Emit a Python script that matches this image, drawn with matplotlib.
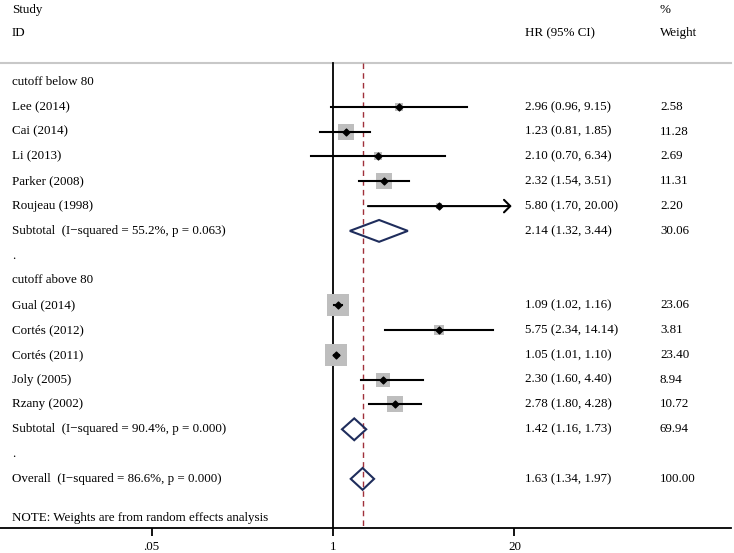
import matplotlib.pyplot as plt
import matplotlib.transforms as mtransforms
from matplotlib.patches import Polygon, FancyArrowPatch
import numpy as np

plt.rcParams['font.family'] = ['Liberation Serif', 'DejaVu Serif']
plt.rcParams['font.size'] = 9.4

# cutoff below 80
g1_names = ["Lee (2014)", "Cai (2014)", "Li (2013)", "Parker (2008)", "Roujeau (1998)"]
g1_hr = [2.96, 1.23, 2.10, 2.32, 5.80]
g1_lo = [0.96, 0.81, 0.70, 1.54, 1.70]
g1_hi = [9.15, 1.85, 6.34, 3.51, 20.00]
g1_wt = [2.58, 11.28, 2.69, 11.31, 2.20]
g1_sub = [2.14, 1.32, 3.44, 30.06]
g1_label = "Subtotal  (I\u2212squared = 55.2%, p = 0.063)"

# cutoff above 80
g2_names = ["Gual (2014)", "Cortés (2012)", "Cortés (2011)", "Joly (2005)", "Rzany (2002)"]
g2_hr = [1.09, 5.75, 1.05, 2.30, 2.78]
g2_lo = [1.02, 2.34, 1.01, 1.60, 1.80]
g2_hi = [1.16, 14.14, 1.10, 4.40, 4.28]
g2_wt = [23.06, 3.81, 23.40, 8.94, 10.72]
g2_sub = [1.42, 1.16, 1.73, 69.94]
g2_label = "Subtotal  (I\u2212squared = 90.4%, p = 0.000)"

overall = [1.63, 1.34, 1.97, 100.00]
overall_label = "Overall  (I\u2212squared = 86.6%, p = 0.000)"

xticks = [0.05, 1, 20]
xtick_labels = [".05", "1", "20"]

fig = plt.figure(figsize=(7.34, 5.53), dpi=100)
ax = fig.add_axes([0, 25 / 553, 731 / 734, 528 / 553])
ax.set_xscale("log")
ax.set_xlim(10 ** (-333 / 139.5), 10 ** (398 / 139.5))
ax.set_ylim(17.98, -3.31)

for s in ["top", "right", "left"]:
    ax.spines[s].set_visible(False)
ax.spines["bottom"].set_linewidth(1.3)
ax.set_yticks([])
ax.set_xticks(xticks)
ax.set_xticklabels(xtick_labels)
ax.xaxis.set_minor_locator(plt.NullLocator())
ax.tick_params(axis="x", length=6, width=1.3, pad=3)

tr = mtransforms.blended_transform_factory(ax.transAxes, ax.transData)
x_name, x_hr, x_wt = 12 / 731, 525 / 731, 660 / 731

def txt(x, y, s):
    ax.text(x, y, s, transform=tr, ha="left", va="center")

# header
txt(x_name, -2.9, "Study")
txt(x_name, -1.98, "ID")
txt(x_hr, -1.98, "HR (95% CI)")
txt(x_wt, -2.9, "%")
txt(x_wt, -1.98, "Weight")
ax.plot([0, 1], [-0.77, -0.77], transform=tr, color="#c8c8c8", lw=1.5, clip_on=False)

ax.plot([1, 1], [-0.77, 17.98], color="black", lw=1.3)
ax.plot([overall[0]] * 2, [-0.77, 17.98], color="#a0303a", lw=1.0, ls=(0, (4, 3)))

def study_rows(names, hr, lo, hi, wt, start):
    for i in range(len(names)):
        y = start + i
        txt(x_name, y, names[i])
        txt(x_hr, y, f"{hr[i]:.2f} ({lo[i]:.2f}, {hi[i]:.2f})")
        txt(x_wt, y, f"{wt[i]:.2f}")
        side = 4.7 * np.sqrt(wt[i]) * 0.72
        ax.scatter([hr[i]], [y], marker="s", s=side ** 2, color="#bebebe", lw=0, zorder=2)
        if hi[i] >= 20:
            arr = FancyArrowPatch((lo[i], y), (hi[i], y),
                                  arrowstyle="->,head_length=0.45,head_width=0.45",
                                  mutation_scale=10, color="black", lw=1.5, zorder=3)
            ax.add_patch(arr)
        else:
            ax.plot([lo[i], hi[i]], [y, y], color="black", lw=1.5, zorder=3)
        ax.scatter([hr[i]], [y], marker="D", s=12, color="black", zorder=4)

def diamond(vals, y, label):
    hr, lo, hi, w = vals
    txt(x_name, y, label)
    txt(x_hr, y, f"{hr:.2f} ({lo:.2f}, {hi:.2f})")
    txt(x_wt, y, f"{w:.2f}")
    h = 0.44
    ax.add_patch(Polygon([[lo, y], [hr, y - h], [hi, y], [hr, y + h]], closed=True,
                         fill=False, edgecolor="#1f2d5c", lw=1.5, zorder=5))

txt(x_name, 0, "cutoff below 80")
study_rows(g1_names, g1_hr, g1_lo, g1_hi, g1_wt, 1)
diamond(g1_sub, 6, g1_label)
txt(x_name, 7, ".")
txt(x_name, 8, "cutoff above 80")
study_rows(g2_names, g2_hr, g2_lo, g2_hi, g2_wt, 9)
diamond(g2_sub, 14, g2_label)
txt(x_name, 15, ".")
diamond(overall, 16, overall_label)
txt(x_name, 17.56, "NOTE: Weights are from random effects analysis")

fig.savefig("out.png", dpi=100)
